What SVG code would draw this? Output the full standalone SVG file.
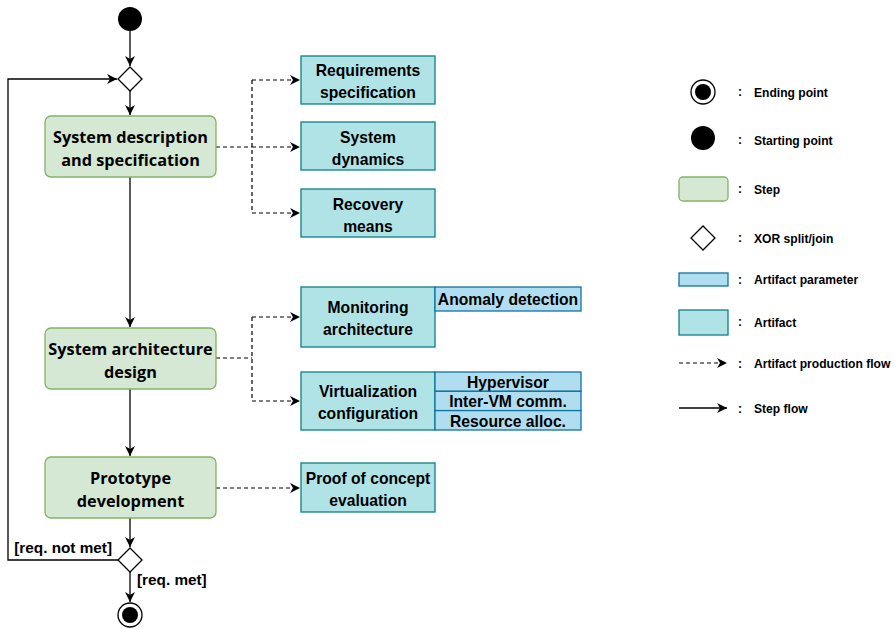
<svg xmlns="http://www.w3.org/2000/svg" width="895" height="629" viewBox="0 0 895 629">
<defs>
<marker id="arr" viewBox="0 0 10 10" refX="10" refY="5" markerWidth="10" markerHeight="10" markerUnits="userSpaceOnUse" orient="auto">
<path d="M0,0 L10,5 L0,10 L3,5 Z" fill="#000"/>
</marker>
<style>
.step{fill:#d5e8d4;stroke:#82b366;stroke-width:1.3}
.art{fill:#b0e3e6;stroke:#0e8088;stroke-width:1.3}
.par{fill:#b1ddf0;stroke:#10739e;stroke-width:1.3}
.st{font-family:"Open Sans","Noto Sans",sans-serif;font-weight:bold;font-size:16.3px;fill:#000;text-anchor:middle}
.at{font-family:"Liberation Sans",Arial,sans-serif;font-weight:bold;font-size:15.7px;fill:#000;text-anchor:middle}
.lt{font-family:"Liberation Sans",Arial,sans-serif;font-weight:bold;font-size:12.1px;fill:#000}
.gl{font-family:"Liberation Sans",Arial,sans-serif;font-weight:bold;font-size:15.3px;fill:#000}
.sol{fill:none;stroke:#000;stroke-width:1.3}
.dash{fill:none;stroke:#000;stroke-width:1.2;stroke-dasharray:4,3}
.xor{fill:#fff;stroke:#000;stroke-width:1.3}
</style>
</defs>
<g id="connectors">
<path class="sol" d="M130,31 V66" marker-end="url(#arr)"/>
<path class="sol" d="M130,91 V115" marker-end="url(#arr)"/>
<path class="sol" d="M130,177 V327" marker-end="url(#arr)"/>
<path class="sol" d="M130,389 V456" marker-end="url(#arr)"/>
<path class="sol" d="M130,518 V547" marker-end="url(#arr)"/>
<path class="sol" d="M130,572 V602" marker-end="url(#arr)"/>
<path class="sol" d="M118,560 H8 V79 H117" marker-end="url(#arr)"/>
<path class="dash" d="M216,147 H252"/>
<path class="dash" d="M252,80 V213"/>
<path class="dash" d="M252,80 H300" marker-end="url(#arr)"/>
<path class="dash" d="M252,147 H300" marker-end="url(#arr)"/>
<path class="dash" d="M252,213 H300" marker-end="url(#arr)"/>
<path class="dash" d="M216,358 H252"/>
<path class="dash" d="M252,317 V401"/>
<path class="dash" d="M252,317 H300" marker-end="url(#arr)"/>
<path class="dash" d="M252,401 H300" marker-end="url(#arr)"/>
<path class="dash" d="M216,488 H300" marker-end="url(#arr)"/>
<text class="gl" x="112" y="553" text-anchor="end">[req. not met]</text>
<text class="gl" x="137" y="585">[req. met]</text>
</g>
<g id="start"><circle cx="130" cy="19" r="12" fill="#000"/></g>
<g id="xor1"><path class="xor" d="M130,67 L142,79 L130,91 L118,79 Z"/></g>
<g id="step1"><rect class="step" x="45" y="116" width="171" height="61" rx="6"/><text class="st" x="130.5" y="143">System description</text><text class="st" x="130.5" y="166">and specification</text></g>
<g id="req"><rect class="art" x="301" y="56" width="134" height="48"/><text class="at" x="368" y="76">Requirements</text><text class="at" x="368" y="98">specification</text></g>
<g id="dyn"><rect class="art" x="301" y="122" width="134" height="48"/><text class="at" x="368" y="143">System</text><text class="at" x="368" y="165">dynamics</text></g>
<g id="rec"><rect class="art" x="301" y="189" width="134" height="48"/><text class="at" x="368" y="210">Recovery</text><text class="at" x="368" y="232">means</text></g>
<g id="step2"><rect class="step" x="45" y="328" width="171" height="61" rx="6"/><text class="st" x="130.5" y="355">System architecture</text><text class="st" x="130.5" y="378">design</text></g>
<g id="mon"><rect class="art" x="301" y="287" width="134" height="60"/><text class="at" x="368" y="313">Monitoring</text><text class="at" x="368" y="335">architecture</text>
<rect class="par" x="435" y="287" width="146" height="24"/><text class="at" x="508" y="305">Anomaly detection</text></g>
<g id="virt"><rect class="art" x="301" y="372" width="134" height="58"/><text class="at" x="368" y="397">Virtualization</text><text class="at" x="368" y="419">configuration</text>
<rect class="par" x="435" y="372" width="146" height="19.3"/><text class="at" x="508" y="387.5">Hypervisor</text>
<rect class="par" x="435" y="391.3" width="146" height="19.3"/><text class="at" x="508" y="407">Inter-VM comm.</text>
<rect class="par" x="435" y="410.6" width="146" height="19.4"/><text class="at" x="508" y="426.5">Resource alloc.</text></g>
<g id="step3"><rect class="step" x="45" y="457" width="171" height="61" rx="6"/><text class="st" x="130.5" y="484">Prototype</text><text class="st" x="130.5" y="507">development</text></g>
<g id="poc"><rect class="art" x="301" y="463" width="134" height="49"/><text class="at" x="368" y="484">Proof of concept</text><text class="at" x="368" y="506">evaluation</text></g>
<g id="xor2"><path class="xor" d="M130,548 L142,560 L130,572 L118,560 Z"/></g>
<g id="end"><circle cx="130" cy="615" r="12" fill="#fff" stroke="#000" stroke-width="1.3"/><circle cx="130" cy="615" r="8" fill="#000"/></g>
<g id="legend">
<circle cx="703" cy="92" r="12" fill="#fff" stroke="#000" stroke-width="1.3"/><circle cx="703" cy="92" r="8" fill="#000"/>
<text class="lt" x="738" y="96">:</text><text class="lt" x="754" y="97">Ending point</text>
<circle cx="703" cy="138" r="12" fill="#000"/>
<text class="lt" x="738" y="144">:</text><text class="lt" x="754" y="145">Starting point</text>
<rect class="step" x="679" y="177" width="49" height="24" rx="4"/>
<text class="lt" x="738" y="193">:</text><text class="lt" x="754" y="194">Step</text>
<path class="xor" d="M703,226 L715,238 L703,250 L691,238 Z"/>
<text class="lt" x="738" y="242">:</text><text class="lt" x="754" y="243">XOR split/join</text>
<rect class="par" x="679" y="273" width="49" height="13"/>
<text class="lt" x="738" y="284">:</text><text class="lt" x="754" y="284">Artifact parameter</text>
<rect class="art" x="679" y="310" width="49" height="25"/>
<text class="lt" x="738" y="326">:</text><text class="lt" x="754" y="327">Artifact</text>
<path class="dash" d="M679,363 H727" marker-end="url(#arr)"/>
<text class="lt" x="738" y="368">:</text><text class="lt" x="754" y="368">Artifact production flow</text>
<path class="sol" d="M679,408 H727" marker-end="url(#arr)"/>
<text class="lt" x="738" y="413">:</text><text class="lt" x="754" y="413">Step flow</text>
</g>
</svg>
